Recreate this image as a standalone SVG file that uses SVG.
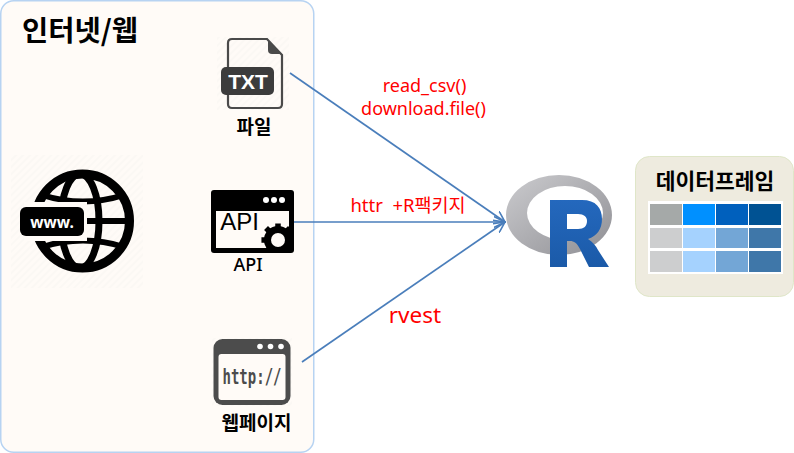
<svg xmlns="http://www.w3.org/2000/svg" width="794" height="453" viewBox="0 0 794 453">
<style>
text{font-family:"Noto Sans","Noto Sans CJK KR",sans-serif}
.lbl{font-size:19px;font-weight:700;fill:#000;text-anchor:middle;font-family:"Noto Sans CJK KR",sans-serif}
.red{fill:#f00;text-anchor:middle}
.conn{stroke:#4a7ebb;stroke-width:1.7;fill:none;marker-end:url(#arr)}
.hatch{fill:url(#h)}
</style>
<defs>
<marker id="arr" viewBox="0 0 12 12" refX="11" refY="6" markerWidth="12" markerHeight="12" markerUnits="userSpaceOnUse" orient="auto"><path d="M0 0.5L11 6L0 11.5" fill="none" stroke="#4a7ebb" stroke-width="1.6"/></marker>
<pattern id="h" width="5" height="5" patternUnits="userSpaceOnUse" patternTransform="rotate(45)"><rect width="5" height="5" fill="#fffbf7"/><rect width="2" height="5" fill="#fbf8f4"/></pattern>
<linearGradient id="ring" x1="0" y1="0" x2="1" y2="1"><stop offset="0" stop-color="#cbcbce"/><stop offset="1" stop-color="#8f8f94"/></linearGradient>
<linearGradient id="rb" x1="0" y1="0" x2="0" y2="1"><stop offset="0" stop-color="#2468bd"/><stop offset="1" stop-color="#1b5aa8"/></linearGradient>
<clipPath id="gearclip"><rect x="258" y="215" width="31" height="38"/></clipPath>
</defs>
<g id="panel">
<rect x="0.75" y="0.75" width="313" height="451.5" rx="13" fill="#fffbf7" stroke="#b7d3f2" stroke-width="1.5"/>
<text x="80" y="41" font-size="28.500" font-weight="700" text-anchor="middle" style="font-family:'Noto Sans CJK KR',sans-serif">인터넷/웹</text>
</g>
<g id="node-www">
<rect class="hatch" x="11" y="155" width="132" height="133"/>
<circle cx="82.500" cy="221" r="47" fill="none" stroke="#000" stroke-width="9"/>
<ellipse cx="80" cy="221" rx="19" ry="47" fill="none" stroke="#000" stroke-width="7"/>
<path d="M42 195Q83 208 124 195M42 247Q83 234 124 247" fill="none" stroke="#000" stroke-width="6"/>
<path d="M87 221H130" stroke="#000" stroke-width="6"/>
<rect x="24" y="202" width="63" height="39" fill="#fffbf7"/>
<rect x="20" y="207" width="64" height="29" rx="6" fill="#000"/>
<text x="52" y="228" font-size="15.500" font-weight="700" fill="#fff" text-anchor="middle">www.</text>
</g>
<g id="node-file">
<rect class="hatch" x="217" y="37" width="72" height="73"/>
<path d="M232 39H267L282 55V104Q282 108 278 108H232Q228 108 228 104V43Q228 39 232 39Z" fill="none" stroke="#4a4a4a" stroke-width="2.2"/>
<path d="M268 40V50Q268 54 272 54H281Z" fill="#4a4a4a"/>
<rect x="221" y="67" width="53" height="28" rx="5" fill="#3c3c3c"/>
<text x="248" y="88.500" font-size="21" font-weight="700" fill="#fff" text-anchor="middle" style="font-family:'Liberation Sans',sans-serif">TXT</text>
<text class="lbl" x="254" y="134">파일</text>
</g>
<g id="node-api">
<rect x="211" y="190" width="83" height="63" rx="3" fill="#000"/>
<rect x="216" y="211" width="73" height="37" fill="#fffbf7"/>
<circle cx="266" cy="200" r="3" fill="#fff"/><circle cx="274" cy="200" r="3" fill="#fff"/><circle cx="282" cy="200" r="3" fill="#fff"/>
<text x="239.500" y="230" font-size="24" fill="#000" text-anchor="middle" style="font-family:'Liberation Sans',sans-serif">API</text>
<g clip-path="url(#gearclip)">
<circle cx="278" cy="240" r="14" fill="#000"/>
<path d="M278 222V258M260 240H296M265 227L291 253M265 253L291 227" stroke="#000" stroke-width="6" transform="translate(278 240) scale(.92) translate(-278 -240)"/>
</g>
<circle cx="278" cy="240" r="7" fill="#fffbf7"/>
<text x="248" y="271" fill="#000" font-size="18" font-weight="500" text-anchor="middle">API</text>
</g>
<g id="node-web">
<rect class="hatch" x="212" y="338" width="80" height="68"/>
<rect x="213.500" y="339" width="77" height="66" rx="9" fill="#4c4c4c"/>
<rect x="218.500" y="354" width="67" height="46" rx="3" fill="#fffbf7"/>
<circle cx="260" cy="346.500" r="2.800" fill="#fff"/><circle cx="270.500" cy="346.500" r="2.800" fill="#fff"/><circle cx="281" cy="346.500" r="2.800" fill="#fff"/>
<text x="252" y="384" font-size="21" font-weight="700" fill="#4c4c4c" text-anchor="middle" textLength="59" lengthAdjust="spacingAndGlyphs" style="font-family:'DejaVu Sans Mono',monospace">http://</text>
<text class="lbl" x="256.500" y="430">웹페이지</text>
</g>
<g id="node-r">
<path fill-rule="evenodd" d="M506 215A53 40 0 1 1 612 215A53 40 0 1 1 506 215ZM527 213A38 27 0 1 0 603 213A38 27 0 1 0 527 213Z" fill="url(#ring)"/>
<path fill-rule="evenodd" d="M550 200H582C596 200 602 208 602 219C602 229 597 236 588 239C593 242 596 246 598 250L609 267H589L580 249C577 243 574 241 570 241H567V267H550ZM567 214V229H578C584 229 587 226 587 221C587 217 584 214 578 214Z" fill="url(#rb)"/>
</g>
<g id="node-df">
<rect x="635.500" y="156.500" width="158" height="140" rx="14" fill="#eeebdf" stroke="#dfe6c8"/>
<text class="lbl" x="715" y="189" style="font-size:21.500px">데이터프레임</text>
<rect x="648" y="201" width="135" height="73" fill="#fff"/>
<g>
<rect x="650" y="204" width="32" height="21" fill="#a5a9a8"/><rect x="683" y="204" width="32" height="21" fill="#0090ff"/><rect x="716" y="204" width="32" height="21" fill="#0060bd"/><rect x="749" y="204" width="32" height="21" fill="#005293"/>
<rect x="650" y="228" width="32" height="20" fill="#cdcecf"/><rect x="683" y="228" width="32" height="20" fill="#a5d2fe"/><rect x="716" y="228" width="32" height="20" fill="#73a6d6"/><rect x="749" y="228" width="32" height="20" fill="#3f77a9"/>
<rect x="650" y="251" width="32" height="21" fill="#cdcecf"/><rect x="683" y="251" width="32" height="21" fill="#a5d2fe"/><rect x="716" y="251" width="32" height="21" fill="#73a6d6"/><rect x="749" y="251" width="32" height="21" fill="#3f77a9"/>
</g>
</g>
<g id="connectors">
<path class="conn" d="M290 73L505 222"/>
<path class="conn" d="M294 222H505"/>
<path class="conn" d="M302 362L505 222"/>
<text class="red" x="424.500" y="92" font-size="18">read_csv()</text>
<text class="red" x="423.500" y="115" font-size="18">download.file()</text>
<text class="red" x="408" y="212" font-size="18.500" xml:space="preserve">httr  +R팩키지</text>
<text class="red" x="415" y="323" font-size="22.500">rvest</text>
</g>
</svg>
